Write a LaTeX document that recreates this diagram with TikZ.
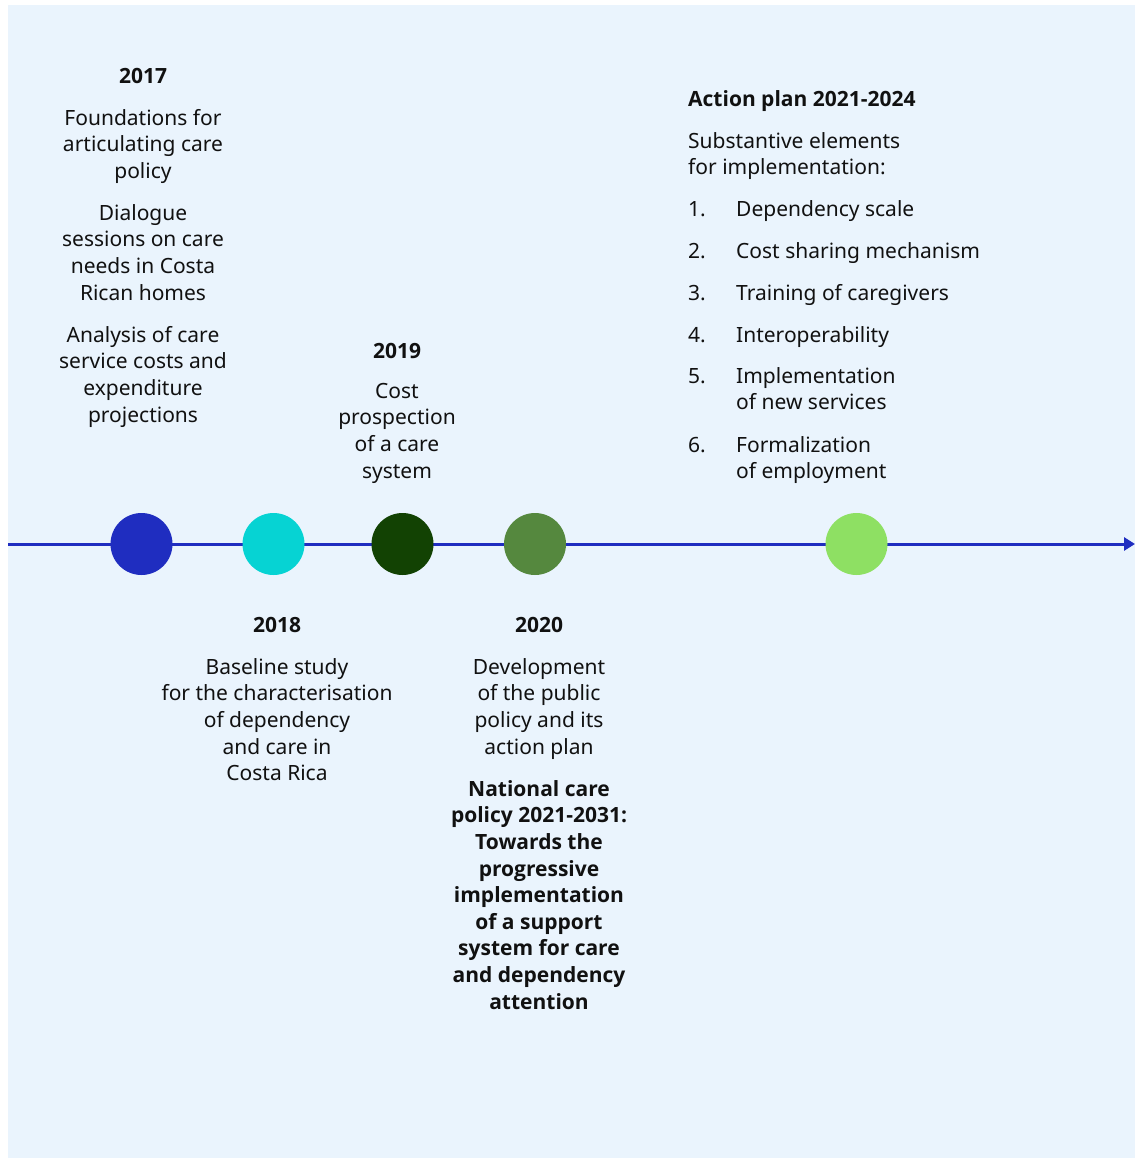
\documentclass[tikz,border=0pt]{standalone}
\usepackage{fontspec}
\setmainfont{Noto Sans}
\newfontfamily\boldfam{Open Sans}
\usetikzlibrary{arrows.meta}
\definecolor{bgblue}{HTML}{EAF4FD}
\definecolor{lineblue}{HTML}{1F2DC0}
\definecolor{cA}{HTML}{1F2DC0}
\definecolor{cB}{HTML}{06D3D3}
\definecolor{cC}{HTML}{124203}
\definecolor{cD}{HTML}{55883E}
\definecolor{cE}{HTML}{8EE063}
\definecolor{txt}{HTML}{111111}
\newcommand{\fst}{\rule{0pt}{17pt}}
\tikzset{
  dot/.style={circle, minimum size=62pt, inner sep=0pt, draw=none},
  txtblock/.style={anchor=north, inner sep=0pt, align=center, text=txt,
    font=\fontsize{21pt}{26.6pt}\selectfont},
  boldtxt/.style={font=\fontsize{21pt}{26.6pt}\boldfam\bfseries\selectfont},
  yearlab/.style={txtblock, boldtxt},
  leftblock/.style={anchor=north west, inner sep=0pt, align=left, text=txt,
    font=\fontsize{21pt}{26.6pt}\selectfont},
  timeline/.style={draw=lineblue, line width=3pt, -{Triangle[length=11pt,width=13pt]}},
}
\begin{document}
\begin{tikzpicture}[x=1pt,y=-1pt]
\useasboundingbox (0,0) rectangle (1135,1158);
\fill[bgblue] (8,5) rectangle (1135,1158);

% timeline
\coordinate (tlstart) at (8,544);
\coordinate (tlend) at (1135,544);
\draw[timeline] (tlstart) -- (tlend);
\node[dot, fill=cA] (d2017) at (141.5,544) {};
\node[dot, fill=cB] (d2018) at (273.5,544) {};
\node[dot, fill=cC] (d2019) at (402.5,544) {};
\node[dot, fill=cD] (d2020) at (535,544) {};
\node[dot, fill=cE] (d2021) at (856.5,544) {};

% 2017
\node[yearlab] (y2017) at (143,66) {\fst 2017};
\node[txtblock] (t2017a) at (143,108) {\fst Foundations for\\articulating care\\policy};
\node[txtblock] (t2017b) at (143,203) {\fst Dialogue\\sessions on care\\needs in Costa\\Rican homes};
\node[txtblock] (t2017c) at (143,325) {\fst Analysis of care\\service costs and\\expenditure\\projections};

% 2019
\node[yearlab] (y2019) at (397,341) {\fst 2019};
\node[txtblock] (t2019) at (397,381) {\fst Cost\\prospection\\of a care\\system};

% 2018
\node[yearlab] (y2018) at (277,615) {\fst 2018};
\node[txtblock] (t2018) at (277,657) {\fst Baseline study\\for the characterisation\\of dependency\\and care in\\Costa Rica};

% 2020
\node[yearlab] (y2020) at (539,615) {\fst 2020};
\node[txtblock] (t2020a) at (539,657) {\fst Development\\of the public\\policy and its\\action plan};
\node[txtblock, boldtxt] (t2020b) at (539,779) {\fst National care\\policy 2021-2031:\\Towards the\\progressive\\implementation\\of a support\\system for care\\and dependency\\attention};

% Action plan
\node[leftblock, boldtxt] (aphead) at (688,89) {\fst Action plan 2021-2024};
\node[leftblock] (apsub) at (688,131) {\fst Substantive elements\\for implementation:};
\node[leftblock] (n1) at (688,199) {\fst 1.};
\node[leftblock] (i1) at (736,199) {\fst Dependency scale};
\node[leftblock] (n2) at (688,241) {\fst 2.};
\node[leftblock] (i2) at (736,241) {\fst Cost sharing mechanism};
\node[leftblock] (n3) at (688,283) {\fst 3.};
\node[leftblock] (i3) at (736,283) {\fst Training of caregivers};
\node[leftblock] (n4) at (688,325) {\fst 4.};
\node[leftblock] (i4) at (736,325) {\fst Interoperability};
\node[leftblock] (n5) at (688,366) {\fst 5.};
\node[leftblock] (i5) at (736,366) {\fst Implementation\\of new services};
\node[leftblock] (n6) at (688,435) {\fst 6.};
\node[leftblock] (i6) at (736,435) {\fst Formalization\\of employment};
\end{tikzpicture}
\end{document}
